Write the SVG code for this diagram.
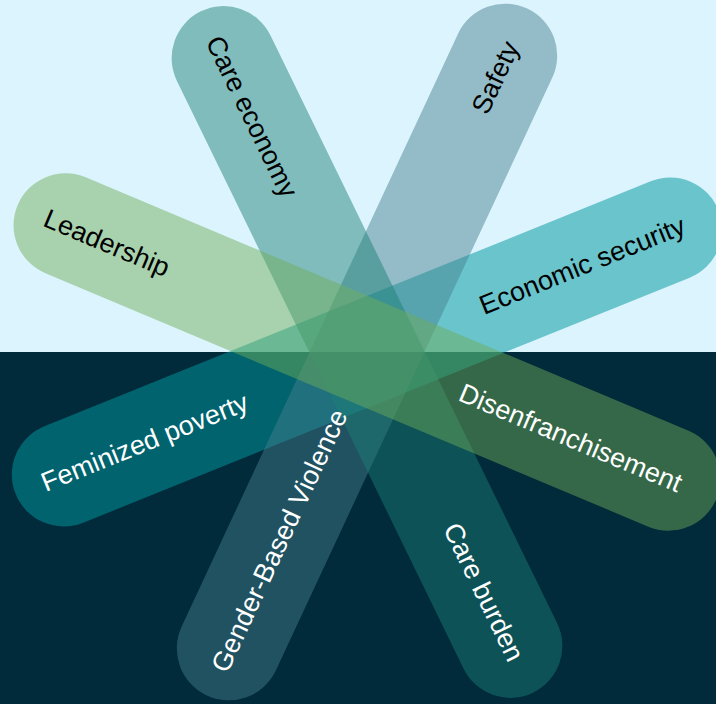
<svg xmlns="http://www.w3.org/2000/svg" width="716" height="704" viewBox="0 0 716 704">
<style>
.bar{stroke:none}
.lbl{font-family:"Liberation Sans",Arial,sans-serif;font-size:27px;text-anchor:middle}
.dk{fill:#000000}
.lt{fill:#ffffff}
</style>
<defs>
<rect id="cap" x="-379" y="-52" width="758" height="104" rx="52" ry="52"/>
</defs>
<g id="background">
<rect x="0" y="0" width="716" height="352" fill="#dcf4fd"/>
<rect x="0" y="352" width="716" height="352" fill="#012a3a"/>
</g>
<g id="bar-economic-security" transform="translate(367 352) rotate(-22)">
<use href="#cap" class="bar" fill="#00989f" fill-opacity="0.52"/>
</g>
<g id="bar-safety" transform="translate(367 352) rotate(-65)">
<use href="#cap" class="bar" fill="#457f8f" fill-opacity="0.48"/>
</g>
<g id="bar-care" transform="translate(367 352) rotate(64)">
<use href="#cap" class="bar" fill="#1b7f76" fill-opacity="0.48"/>
</g>
<g id="bar-leadership" transform="translate(367 352) rotate(22.8)">
<use href="#cap" class="bar" fill="#6fad58" fill-opacity="0.48"/>
</g>
<g id="label-leadership" transform="translate(367 352) rotate(22.8)">
<text class="lbl dk" x="-282" y="0" dy="0.35em">Leadership</text>
</g>
<g id="label-disenfranchisement" transform="translate(367 352) rotate(22.8)">
<text class="lbl lt" x="221" y="0" dy="0.35em">Disenfranchisement</text>
</g>
<g id="label-economic-security" transform="translate(367 352) rotate(-22)">
<text class="lbl dk" x="232" y="0" dy="0.35em">Economic security</text>
</g>
<g id="label-feminized-poverty" transform="translate(367 352) rotate(-22)">
<text class="lbl lt" x="-240" y="0" dy="0.35em">Feminized poverty</text>
</g>
<g id="label-care-economy" transform="translate(367 352) rotate(64)">
<text class="lbl dk" x="-262" y="0" dy="0.35em">Care economy</text>
</g>
<g id="label-care-burden" transform="translate(367 352) rotate(64)">
<text class="lbl lt" x="267" y="0" dy="0.35em">Care burden</text>
</g>
<g id="label-safety" transform="translate(367 352) rotate(-65)">
<text class="lbl dk" x="303" y="0" dy="0.35em">Safety</text>
</g>
<g id="label-gbv" transform="translate(367 352) rotate(-65)">
<text class="lbl lt" x="-208" y="0" dy="0.35em">Gender-Based Violence</text>
</g>
</svg>
